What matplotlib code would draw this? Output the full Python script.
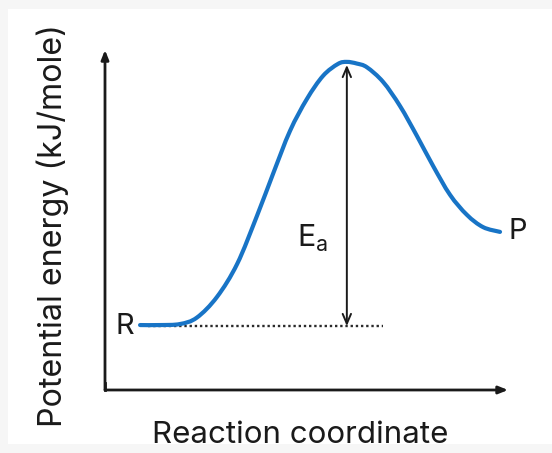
import numpy as np
import matplotlib.pyplot as plt
from matplotlib.patches import Rectangle, PathPatch
from matplotlib.path import Path

plt.rcParams['font.family'] = ['Inter', 'DejaVu Sans']

# reaction profile (arbitrary units)
coord = [0.87, 1.36, 1.86, 2.28, 2.78, 3.28, 3.77, 4.17, 4.59, 5.01, 5.41, 5.78,
         6.00, 6.25, 6.50, 6.90, 7.32, 7.74, 8.14, 8.56, 8.98, 9.38, 9.80]
energy = [1.91, 1.91, 1.94, 2.13, 2.74, 3.71, 5.12, 6.36, 7.62, 8.56, 9.24, 9.59,
          9.65, 9.60, 9.49, 9.06, 8.35, 7.47, 6.59, 5.74, 5.15, 4.79, 4.65]

e_reactant = 1.88
ts_coord = 6.0
ts_energy = 9.56
dotted_x = [1.07, 6.9]
product_label_y = 4.65

blue = '#1874c6'
ink = '#1a1a1a'


def smooth_path(xs, ys):
    # Catmull-Rom through the read points, written as cubic Bezier segments
    pts = np.column_stack([xs, ys])
    verts = [pts[0]]
    codes = [Path.MOVETO]
    for i in range(len(pts) - 1):
        p0 = pts[i - 1] if i > 0 else pts[i]
        p1, p2 = pts[i], pts[i + 1]
        p3 = pts[i + 2] if i + 2 < len(pts) else pts[i + 1]
        verts += [p1 + (p2 - p0) / 6, p2 - (p3 - p1) / 6, p2]
        codes += [Path.CURVE4] * 3
    return Path(verts, codes)


fig = plt.figure(figsize=(5.52, 4.53), dpi=100, facecolor='#f6f6f6')
fig.patches.append(Rectangle((8 / 552, 9 / 453), 544 / 552, 435 / 453,
                             transform=fig.transFigure, facecolor='white',
                             edgecolor='none', zorder=-10))
ax = fig.add_axes([0, 0, 1, 1])
ax.set_facecolor('none')
ax.set_xlim(-2.605, 11.09)
ax.set_ylim(-1.853, 11.47)
ax.axis('off')

# axes with arrow heads
ax.annotate('', xy=(0, 10.0), xytext=(0, 0),
            arrowprops=dict(arrowstyle='-|>,head_length=0.55,head_width=0.22',
                            color=ink, lw=2, shrinkA=0, shrinkB=0))
ax.annotate('', xy=(10.0, 0), xytext=(0, 0),
            arrowprops=dict(arrowstyle='-|>,head_length=0.55,head_width=0.22',
                            color=ink, lw=2, shrinkA=0, shrinkB=0))
ax.plot([0, 0], [0, 0.2], color=ink, lw=2, solid_capstyle='projecting')

# reactant level
ax.plot(dotted_x, [e_reactant, e_reactant], color='#2a2a2a', lw=1.7,
        linestyle=(0, (1, 1.2)))

# energy profile
ax.add_patch(PathPatch(smooth_path(coord, energy), facecolor='none',
                       edgecolor=blue, lw=3, capstyle='round',
                       joinstyle='round', zorder=3))

# activation energy arrow
ax.annotate('', xy=(ts_coord, ts_energy), xytext=(ts_coord, e_reactant),
            arrowprops=dict(arrowstyle='<->,head_length=0.7,head_width=0.3',
                            color=ink, lw=1.4, shrinkA=0, shrinkB=0))

ax.text(0.5, e_reactant, 'R', fontsize=21, ha='center', va='center', color=ink)
ax.text(10.25, product_label_y, 'P', fontsize=21, ha='center', va='center', color=ink)
ax.text(5.15, 4.45, r'E$_\mathregular{a}$', fontsize=22, ha='center', va='center',
        color=ink)

ax.text(4.84, -1.32, 'Reaction coordinate', fontsize=22.5, ha='center',
        va='center', color=ink)
ax.text(-1.3, 4.85, 'Potential energy (kJ/mole)', fontsize=23.2, ha='center',
        va='center', rotation=90, color=ink)

fig.savefig('out.png', dpi=100, facecolor=fig.get_facecolor())
